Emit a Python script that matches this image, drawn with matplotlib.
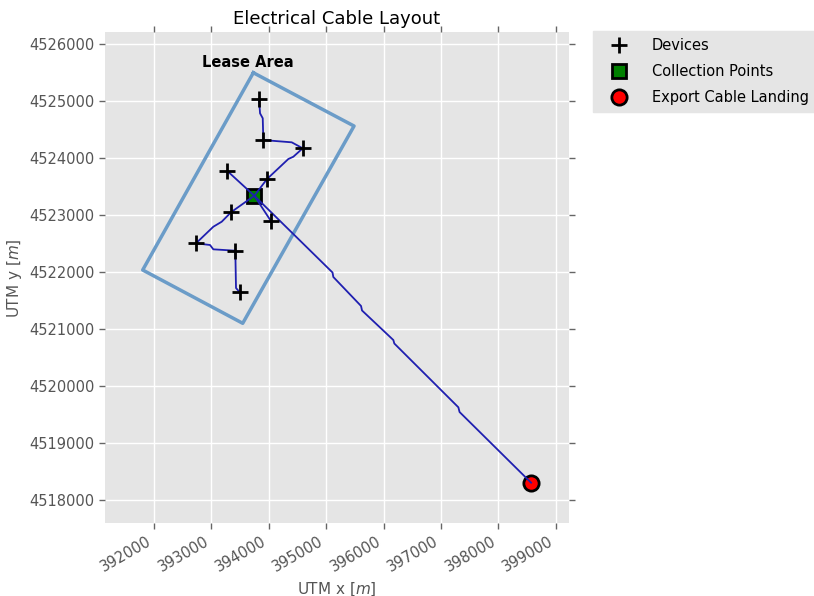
import matplotlib
matplotlib.use("Agg")
import matplotlib.pyplot as plt

# ---- data (UTM metres) ----
device_x = [393830, 393905, 394592, 393278, 393970, 393347, 394034, 392732, 393417, 393494]
device_y = [4525034, 4524319, 4524174, 4523775, 4523635, 4523055, 4522902, 4522506, 4522376, 4521645]

collection_x = [393748]
collection_y = [4523341]

landing_x = [398571]
landing_y = [4518302]

lease_x = [393731, 395486, 393546, 391803, 393731]
lease_y = [4525501, 4524565, 4521101, 4522037, 4525501]

# cable routes
cable_a_x = [393830, 393848, 393895, 393905, 394400, 394592, 394428, 394341, 393970, 393748]
cable_a_y = [4525034, 4524788, 4524701, 4524319, 4524279, 4524174, 4524026, 4523986, 4523635, 4523341]

cable_b_x = [393278, 393748, 394034]
cable_b_y = [4523775, 4523341, 4522902]

cable_c_x = [393494, 393429, 393417, 393034, 392976, 392732, 393034, 393180, 393347, 393748]
cable_c_y = [4521645, 4521721, 4522376, 4522400, 4522476, 4522506, 4522797, 4522885, 4523055, 4523341]

export_x = [393748, 395111, 395125, 395608, 395625, 396171, 396188, 397304, 397325, 398571]
export_y = [4523341, 4521993, 4521914, 4521405, 4521326, 4520807, 4520746, 4519626, 4519543, 4518302]

x_ticks = [392000, 393000, 394000, 395000, 396000, 397000, 398000, 399000]
y_ticks = [4518000, 4519000, 4520000, 4521000, 4522000, 4523000, 4524000, 4525000, 4526000]

# ---- plot ----
fig = plt.figure(figsize=(8.14, 5.96), dpi=100)
fig.patch.set_facecolor("white")
ax = fig.add_axes([105/814, 1-523.3/596, 464/814, 491/596])
ax.set_facecolor("#E5E5E5")
for s in ax.spines.values():
    s.set_visible(False)
ax.grid(True, color="white", linewidth=1.0)
ax.set_axisbelow(True)

cable_color = "#1f1fb0"
ax.plot(lease_x, lease_y, color="#6b9cc8", linewidth=2.5, zorder=2)
ax.plot(collection_x, collection_y, linestyle="none", marker="s", markersize=10,
        markerfacecolor="green", markeredgecolor="black", markeredgewidth=2, zorder=3)
ax.plot(landing_x, landing_y, linestyle="none", marker="o", markersize=11,
        markerfacecolor="red", markeredgecolor="black", markeredgewidth=2, zorder=3)
for cx, cy in [(cable_a_x, cable_a_y), (cable_b_x, cable_b_y),
               (cable_c_x, cable_c_y), (export_x, export_y)]:
    ax.plot(cx, cy, color=cable_color, linewidth=1.3, zorder=4)
ax.plot(device_x, device_y, linestyle="none", marker="+", markersize=11,
        markeredgewidth=2, color="black", zorder=5)

ax.text(393640, 4525545, "Lease Area", fontsize=10.5, fontweight="bold",
        ha="center", va="bottom", zorder=6)

ax.set_xlim(391146, 399232)
ax.set_ylim(4517589, 4526211)
ax.set_xticks(x_ticks)
ax.set_yticks(y_ticks)
ax.ticklabel_format(useOffset=False, style="plain")
ax.tick_params(axis="both", which="both", direction="out", length=4, width=1,
               color="#666666", labelcolor="#555555", labelsize=10.5,
               top=True, right=True)
for lbl in ax.get_xticklabels():
    lbl.set_rotation(30)
    lbl.set_ha("right")

ax.set_title("Electrical Cable Layout", fontsize=13, color="black")
ax.set_xlabel("UTM x [$m$]", fontsize=11, color="#555555")
ax.set_ylabel("UTM y [$m$]", fontsize=11, color="#555555")

h1, = ax.plot([], [], linestyle="none", marker="+", markersize=11, markeredgewidth=2, color="black")
h2, = ax.plot([], [], linestyle="none", marker="s", markersize=10, markerfacecolor="green",
              markeredgecolor="black", markeredgewidth=2)
h3, = ax.plot([], [], linestyle="none", marker="o", markersize=11, markerfacecolor="red",
              markeredgecolor="black", markeredgewidth=2)
leg = ax.legend([h1, h2, h3], ["Devices", "Collection Points", "Export Cable Landing"],
                loc="upper left", bbox_to_anchor=(593/814, 1-31/596),
                bbox_transform=fig.transFigure, numpoints=1, fontsize=10.5,
                frameon=True, fancybox=False, borderaxespad=0.0,
                borderpad=0.5, handlelength=2.5, handletextpad=1.05, labelspacing=0.75)
leg.get_frame().set_facecolor("#E5E5E5")
leg.get_frame().set_edgecolor("#E5E5E5")
leg.get_frame().set_alpha(1.0)

fig.savefig("out.png", dpi=100)
